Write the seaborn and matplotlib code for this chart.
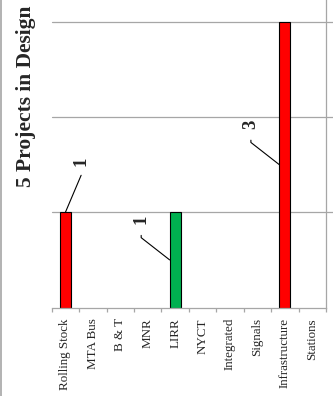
import matplotlib
matplotlib.use("Agg")
import matplotlib.pyplot as plt
from matplotlib.lines import Line2D
import seaborn as sns

categories = ["Rolling Stock", "MTA Bus", "B & T", "MNR", "LIRR", "NYCT",
              "Integrated", "Signals", "Infrastructure", "Stations"]
values = [1, 0, 0, 0, 1, 0, 0, 0, 3, 0]
bar_colors = ["#FF0000", "#FF0000", "#FF0000", "#FF0000", "#00B050",
              "#FF0000", "#FF0000", "#FF0000", "#FF0000", "#FF0000"]
title = "5 Projects in Design"

sns.set_style("white")
plt.rcParams["font.family"] = ["Liberation Serif", "DejaVu Serif"]

W, H = 333, 396
fig = plt.figure(figsize=(W / 100, H / 100), dpi=100)
x0, x1, yb = 51.7, 326.0, 307.5
ax = fig.add_axes([x0 / W, (H - yb) / H, (x1 - x0) / W, yb / H])

sns.barplot(x=categories, y=values, hue=categories, palette=bar_colors,
            width=0.4, edgecolor="black", linewidth=0.8, legend=False,
            saturation=1, ax=ax)
for p in ax.patches:
    if p.get_height() == 0:
        p.set_visible(False)

ax.set_xlim(-0.5, len(categories) - 0.5)
ax.set_ylim(0, 3.23)
ax.set_xlabel("")
ax.set_ylabel("")
ax.set_yticks([])

grid_c = "#a6a6a6"
for g in [1, 2, 3]:
    ax.axhline(g, xmin=0, xmax=(W - x0) / (x1 - x0), color=grid_c,
               lw=0.9, clip_on=False, zorder=0)

for s in ["left", "top"]:
    ax.spines[s].set_visible(False)
for s in ["right", "bottom"]:
    ax.spines[s].set_color(grid_c)
    ax.spines[s].set_linewidth(0.9)

ax.set_xticks(range(len(categories)))
ax.set_xticklabels(categories, rotation=90, ha="center", va="top",
                   fontsize=9.4)
ax.set_xticks([i - 0.5 for i in range(len(categories) + 1)], minor=True)
ax.tick_params(axis="x", which="major", length=0, pad=7.6)
ax.tick_params(axis="x", which="minor", length=3, width=0.9,
               color=grid_c, bottom=True)

# value labels with leader lines
lab_style = dict(rotation=90, ha="center", va="bottom", fontsize=13.5,
                 fontweight="bold", textcoords="offset points",
                 annotation_clip=False)
i0 = categories.index("Rolling Stock")
ax.annotate(str(values[i0]), xy=(i0, values[i0]), xytext=(11.5, 33),
            arrowprops=dict(arrowstyle="-", color="black", lw=0.8,
                            shrinkA=4, shrinkB=0,
                            connectionstyle="angle,angleA=-90,angleB=67,rad=0"),
            **lab_style)
for name in ["LIRR", "Infrastructure"]:
    i = categories.index(name)
    ax.annotate(str(values[i]), xy=(i - 0.2, values[i] / 2),
                xytext=(-20.5, 26),
                arrowprops=dict(arrowstyle="-", color="black", lw=0.8,
                                shrinkA=6, shrinkB=0,
                                connectionstyle="angle,angleA=-90,angleB=142,rad=0"),
                **lab_style)

fig.text(26 / W, 1 - 96 / H, title, rotation=90, ha="center", va="center",
         fontsize=15.5, fontweight="bold")

fig.add_artist(Line2D([0.8 / W, 0.8 / W], [0, 1], color=grid_c, lw=1.2,
                      transform=fig.transFigure))

fig.savefig("out.png", dpi=100)
